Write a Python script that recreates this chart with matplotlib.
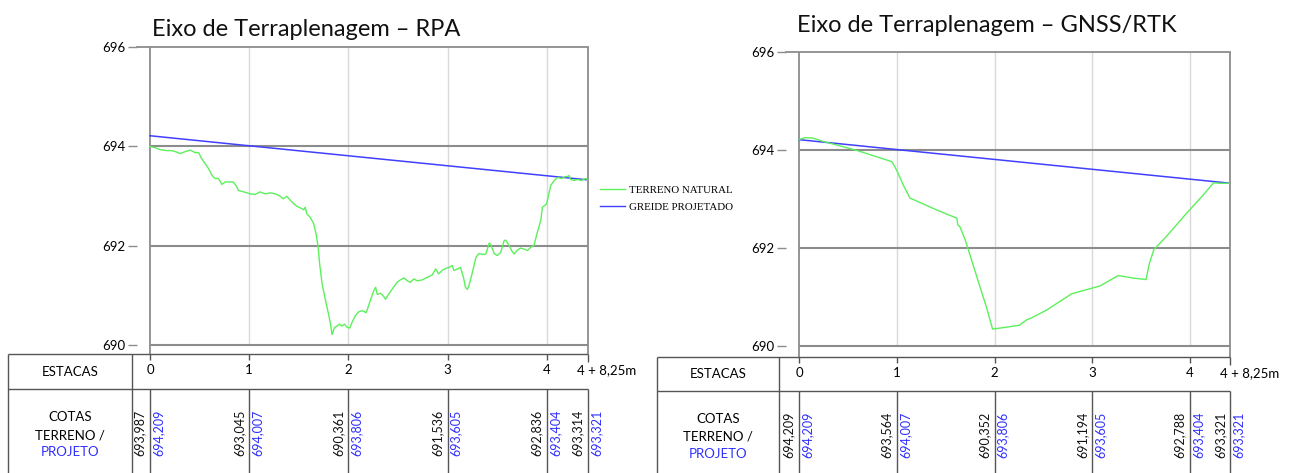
import matplotlib
matplotlib.use("Agg")
import matplotlib.pyplot as plt
from matplotlib.lines import Line2D

W, H, DPI = 1290, 473, 100

# ---------------- data ----------------
station_len = 20.0
station_idx = [0, 1, 2, 3, 4]
station_labels = ["0", "1", "2", "3", "4"]
end_dist = 88.25
end_label = "4 + 8,25m"
y_ticks = [690, 692, 694, 696]

titles = ["Eixo de Terraplenagem \u2013 RPA", "Eixo de Terraplenagem \u2013 GNSS/RTK"]

rpa_dist = [0.0, 1.0, 2.0, 3.4, 4.4, 5.1, 6.1, 7.1, 8.1, 9.1, 9.8, 10.4, 11.1, 11.8, 12.5,
            13.1, 13.8, 14.5, 15.2, 15.8, 16.8, 17.5, 17.8, 18.9, 20.2, 21.2, 22.2, 23.2,
            24.2, 25.3, 26.3, 26.9, 27.6, 28.3, 29.0, 29.6, 30.3, 31.0, 31.3, 31.6, 32.3,
            33.0, 33.5, 33.9, 34.2, 34.7, 35.4, 36.0, 36.4, 36.7, 37.2, 37.7, 38.2, 38.7,
            39.2, 39.7, 40.3, 40.7, 41.4, 42.1, 42.8, 43.6, 44.4, 45.1, 45.5, 45.8, 46.5,
            47.0, 47.5, 48.1, 48.8, 49.8, 50.5, 51.2, 51.9, 52.5, 53.2, 53.9, 54.9, 55.9,
            56.9, 57.6, 58.2, 58.9, 59.6, 60.3, 60.9, 61.3, 62.0, 62.6, 63.2, 63.6, 64.0,
            64.3, 65.0, 65.7, 66.3, 67.0, 67.7, 68.4, 68.7, 69.4, 70.0, 70.7, 71.4, 71.7,
            72.4, 72.9, 73.4, 74.1, 74.7, 75.4, 76.1, 76.8, 77.4, 78.1, 78.8, 79.1, 79.9,
            80.1, 80.8, 81.5, 82.2, 83.0, 83.5, 84.2, 84.5, 84.8, 85.5, 86.2, 86.9, 87.9,
            88.25]
rpa_elev = [693.99, 693.97, 693.93, 693.91, 693.91, 693.89, 693.85, 693.89, 693.92, 693.87,
            693.87, 693.75, 693.65, 693.55, 693.41, 693.35, 693.35, 693.23, 693.28, 693.28,
            693.28, 693.18, 693.11, 693.08, 693.04, 693.03, 693.08, 693.04, 693.06, 693.04,
            692.99, 692.94, 692.99, 692.91, 692.84, 692.79, 692.76, 692.72, 692.77, 692.64,
            692.57, 692.44, 692.23, 691.97, 691.63, 691.23, 690.89, 690.62, 690.42, 690.21,
            690.35, 690.38, 690.42, 690.38, 690.42, 690.36, 690.34, 690.45, 690.59, 690.67,
            690.69, 690.65, 690.89, 691.09, 691.16, 691.02, 691.04, 690.99, 690.92, 691.02,
            691.12, 691.26, 691.31, 691.35, 691.29, 691.26, 691.33, 691.29, 691.31, 691.36,
            691.41, 691.53, 691.43, 691.50, 691.54, 691.56, 691.60, 691.50, 691.53, 691.56,
            691.36, 691.16, 691.12, 691.19, 691.46, 691.76, 691.84, 691.82, 691.83, 692.05,
            692.02, 691.84, 691.80, 691.86, 692.10, 692.11, 692.00, 691.90, 691.83, 691.91,
            691.95, 691.93, 691.90, 691.97, 692.00, 692.27, 692.51, 692.77, 692.83, 692.90,
            693.21, 693.31, 693.37, 693.35, 693.38, 693.39, 693.41, 693.33, 693.31, 693.33,
            693.31, 693.35, 693.314]

gnss_dist = [0.0, 1.2, 2.9, 5.0, 7.7, 11.8, 15.9, 19.0, 19.6, 20.3, 21.3, 22.7, 25.4, 28.8,
             32.3, 32.5, 32.9, 34.0, 35.3, 37.0, 38.4, 39.6, 42.5, 45.1, 46.6, 47.6, 50.7,
             55.8, 61.6, 65.3, 68.4, 71.0, 71.7, 72.6, 75.2, 79.3, 82.7, 84.8, 86.1, 88.25]
gnss_elev = [694.21, 694.25, 694.24, 694.17, 694.10, 693.99, 693.86, 693.76, 693.66, 693.52,
             693.29, 693.02, 692.90, 692.75, 692.61, 692.47, 692.44, 692.17, 691.76, 691.22,
             690.78, 690.35, 690.39, 690.43, 690.54, 690.58, 690.74, 691.07, 691.23, 691.44,
             691.39, 691.36, 691.69, 691.97, 692.24, 692.71, 693.08, 693.33, 693.32, 693.321]

proj_dist = [0.0, 20.0, 40.0, 60.0, 80.0, 88.25]
proj_elev = [694.209, 694.007, 693.806, 693.605, 693.404, 693.321]

rpa_cotas_terreno = [693.987, 693.045, 690.361, 691.536, 692.836, 693.314]
gnss_cotas_terreno = [694.209, 693.564, 690.352, 691.194, 692.788, 693.321]
cotas_projeto = [694.209, 694.007, 693.806, 693.605, 693.404, 693.321]

legend_labels = ["TERRENO NATURAL", "GREIDE PROJETADO"]

# ---------------- style ----------------
FONT = "Lato"
GREEN = "#5cf05c"
BLUE = "#4040ff"
GRID_DARK = "#8c8c8c"
GRID_LIGHT = "#d9d9d9"
TABLE = "#555555"
TXT_BLUE = "#2f2fff"

fig = plt.figure(figsize=(W / DPI, H / DPI), dpi=DPI)
fig.patch.set_facecolor("white")


def px_axes(left, top, right, bottom):
    return fig.add_axes([left / W, 1 - bottom / H, (right - left) / W, (bottom - top) / H])


def fmt(v):
    return f"{v:.3f}".replace(".", ",")


panels = [
    dict(x0=150.0, ppm=4.96, axleft=137.0, top=46.7, bottom=345.0,
         tl=8.0, tdiv=131.5, ttop=354.0, trow=389.0,
         dist=rpa_dist, elev=rpa_elev, terr=rpa_cotas_terreno,
         title=titles[0], tx=152, ty=36),
    dict(x0=799.0, ppm=4.8875, axleft=786.0, top=51.7, bottom=346.3,
         tl=656.7, tdiv=779.3, ttop=356.7, trow=390.7,
         dist=gnss_dist, elev=gnss_elev, terr=gnss_cotas_terreno,
         title=titles[1], tx=797, ty=32),
]

station_x = [i * station_len for i in station_idx]
col_x = station_x + [end_dist]

for p in panels:
    x0, ppm = p["x0"], p["ppm"]
    right_px = x0 + end_dist * ppm
    ax = px_axes(p["axleft"], p["top"], right_px, p["bottom"])
    ax.set_xlim(-(x0 - p["axleft"]) / ppm, end_dist)
    ax.set_ylim(690, 696)
    for s in ax.spines.values():
        s.set_visible(False)
    ax.set_xticks([])
    ax.set_yticks(y_ticks)
    ax.set_yticklabels([str(t) for t in y_ticks], fontfamily=FONT, fontsize=9.5)
    ax.tick_params(axis="y", length=6.5, width=1.0, color=GRID_DARK, pad=2)
    ppy = (p["bottom"] - p["top"]) / 6.0

    # grid
    ax.axhline(696, color=GRID_DARK, lw=1.3, clip_on=False, zorder=1)
    ax.hlines([694, 692, 690], 0, end_dist, color=GRID_DARK, lw=1.5, zorder=1, clip_on=False)
    ax.vlines(station_x[1:], 690, 696, color=GRID_LIGHT, lw=1.0, zorder=0)
    ax.vlines([0], 690 - (p["ttop"] - p["bottom"]) / ppy, 696, color=GRID_DARK, lw=1.3,
              clip_on=False, zorder=1)
    ax.vlines([end_dist], 690 - (p["ttop"] - p["bottom"]) / ppy, 696, color=GRID_DARK,
              lw=1.3, clip_on=False, zorder=1)

    ax.plot(proj_dist, proj_elev, color=BLUE, lw=1.1, zorder=3)
    ax.plot(p["dist"], p["elev"], color=GREEN, lw=1.0, zorder=4)

    fig.text(p["tx"] / W, 1 - p["ty"] / H, p["title"], ha="left", va="baseline",
             fontfamily=FONT, fontsize=17, color="#111111")

    # table
    tb = px_axes(p["tl"], p["ttop"], right_px, H)
    xl = -(x0 - p["tl"]) / ppm
    xdiv = -(x0 - p["tdiv"]) / ppm
    tb.set_xlim(xl, end_dist)
    tb.set_ylim(0, 1)
    tb.axis("off")
    hpx = H - p["ttop"]
    yr = (H - p["trow"]) / hpx
    kw = dict(color=TABLE, lw=1.0, clip_on=False)
    tb.hlines([1.0, yr], xl, end_dist, **kw)
    tb.vlines([xl, xdiv], 0, 1, **kw)
    tb.vlines(station_x, 1 - 6 / hpx, 1, **kw)
    tb.vlines([end_dist], 1 - 8 / hpx, 1, **kw)
    tb.vlines(col_x, 0, yr, **kw)

    ylab = (H - (p["ttop"] + 16)) / hpx
    for sx, lab in zip(station_x, station_labels):
        tb.text(sx, ylab, lab, ha="center", va="center", fontfamily=FONT, fontsize=9.5)
    tb.text(end_dist + 19 / ppm, ylab, end_label, ha="center", va="center",
            fontfamily=FONT, fontsize=9.5)

    xc = (xl + xdiv) / 2
    tb.text(xc, (1 + yr) / 2, "ESTACAS", ha="center", va="center",
            fontfamily=FONT, fontsize=9.5)
    ycot = (H - (p["trow"] + 28)) / hpx
    yter = (H - (p["trow"] + 46)) / hpx
    ypro = (H - (p["trow"] + 63)) / hpx
    tb.text(xc, ycot, "COTAS", ha="center", va="center", fontfamily=FONT, fontsize=9.5)
    tb.text(xc, yter, "TERRENO /", ha="center", va="center", fontfamily=FONT, fontsize=9.5)
    tb.text(xc, ypro, "PROJETO", ha="center", va="center", fontfamily=FONT, fontsize=9.5,
            color=TXT_BLUE)

    yval = (H - (p["trow"] + 44)) / hpx
    for cx, vt, vp in zip(col_x, p["terr"], cotas_projeto):
        tb.annotate(fmt(vt), (cx, yval), xytext=(-7.2, 0), textcoords="offset points",
                    rotation=90, ha="center", va="center", fontfamily=FONT, fontsize=9,
                    color="#111111", annotation_clip=False)
        tb.annotate(fmt(vp), (cx, yval), xytext=(6.0, 0), textcoords="offset points",
                    rotation=90, ha="center", va="center", fontfamily=FONT, fontsize=9,
                    color=TXT_BLUE, annotation_clip=False)

# legend
handles = [Line2D([], [], color=GREEN, lw=1.0), Line2D([], [], color=BLUE, lw=1.0)]
fig.legend(handles, legend_labels, loc="upper left",
           bbox_to_anchor=(600 / W, 1 - 185 / H), bbox_transform=fig.transFigure,
           frameon=False, borderpad=0, borderaxespad=0, handlelength=2.3,
           handletextpad=0.35, labelspacing=0.75,
           prop=dict(family="Liberation Serif", size=7.8))

fig.savefig("out.png", dpi=DPI, facecolor="white")
